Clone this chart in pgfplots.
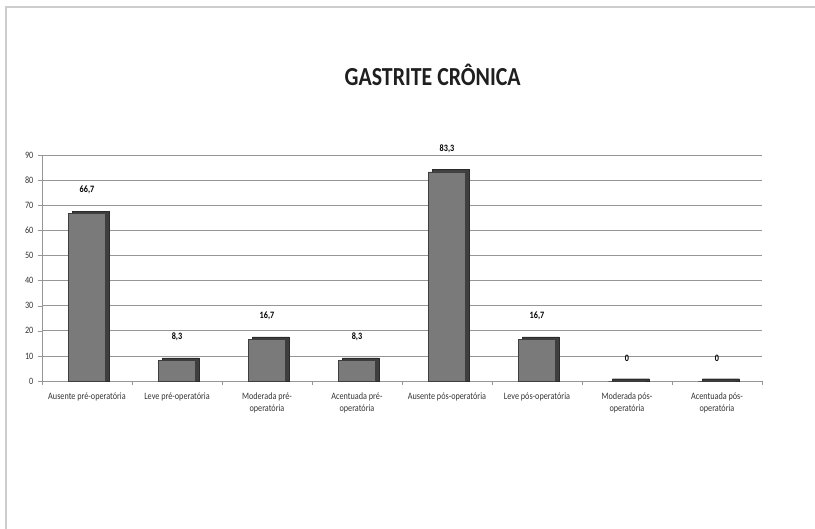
\documentclass[border=0pt]{standalone}
\usepackage{pgfplots}
\usepackage{pgfplotstable}
\pgfplotsset{compat=1.18}
\usepackage{fontspec}
\setmainfont{Carlito}
\newfontfamily\narrowfont[FakeStretch=0.84]{Carlito}
\definecolor{barface}{RGB}{122,122,122}
\definecolor{barside}{RGB}{62,62,62}
\definecolor{gridc}{RGB}{150,150,150}
\definecolor{framec}{RGB}{205,205,205}
\pgfplotstableread{
x v
0 66.7
1 8.3
2 16.7
3 8.3
4 83.3
5 16.7
6 0
7 0
}\gastrite
\begin{document}
\begin{tikzpicture}
% canvas: 815 x 529 px, 1 px = 0.75 pt, origin at top left
\useasboundingbox (0,0) rectangle (611.25pt,-396.75pt);
\draw[framec, line width=0.8pt] (4.5pt,-396.75pt) -- (4.5pt,-5.25pt) -- (611.25pt,-5.25pt);
\node[font=\narrowfont\fontsize{19.5}{22}\selectfont\bfseries, text=black!88] at (324.5pt,-56.5pt) {GASTRITE CRÔNICA};
\begin{axis}[
  at={(31.5pt,-285.75pt)}, anchor=south west,
  width=540pt, height=169.5pt, scale only axis,
  xmin=-0.5, xmax=7.5, ymin=0, ymax=90,
  ytick={0,10,...,90},
  xtick={0,...,7},
  xticklabels={Ausente pré-operatória, Leve pré-operatória, Moderada pré-\\operatória, Acentuada pré-\\operatória, Ausente pós-operatória, Leve pós-operatória, Moderada pós-\\operatória, Acentuada pós-\\operatória},
  xticklabel style={align=center, font=\narrowfont\fontsize{7.3}{9.6}\selectfont, text=black!80, yshift=-2pt},
  yticklabel style={font=\narrowfont\fontsize{7.3}{9}\selectfont, text=black!80},
  /pgf/number format/assume math mode=true,
  major x tick style={draw=none},
  minor xtick={-0.5,0.5,...,7.5},
  minor tick length=3pt,
  minor x tick style={gridc},
  major tick length=3pt,
  tick pos=left, tick align=outside,
  y tick style={gridc},
  ymajorgrids, grid style={gridc, line width=0.5pt},
  axis x line*=bottom, axis y line*=left,
  axis line style={gridc},
  ybar,
  clip=false,
]
% shaded depth of each bar (top and right side), behind the front face
\addplot[fill=barside, draw=barside!70!black, line width=0.3pt, bar width=27.75pt, bar shift=3pt]
  table[x=x, y expr=\thisrow{v}+0.9] {\gastrite};
% front faces with value labels
\addplot[fill=barface, draw=barside, line width=0.5pt, bar width=27.75pt, bar shift=0pt,
  nodes near coords={\pgfmathprintnumber[fixed, precision=1, use comma]{\pgfplotspointmeta}},
  nodes near coords style={font=\narrowfont\fontsize{7.3}{9}\selectfont\bfseries, text=black, yshift=11pt}]
  table[x=x, y=v] {\gastrite};
\end{axis}
\end{tikzpicture}
\end{document}
